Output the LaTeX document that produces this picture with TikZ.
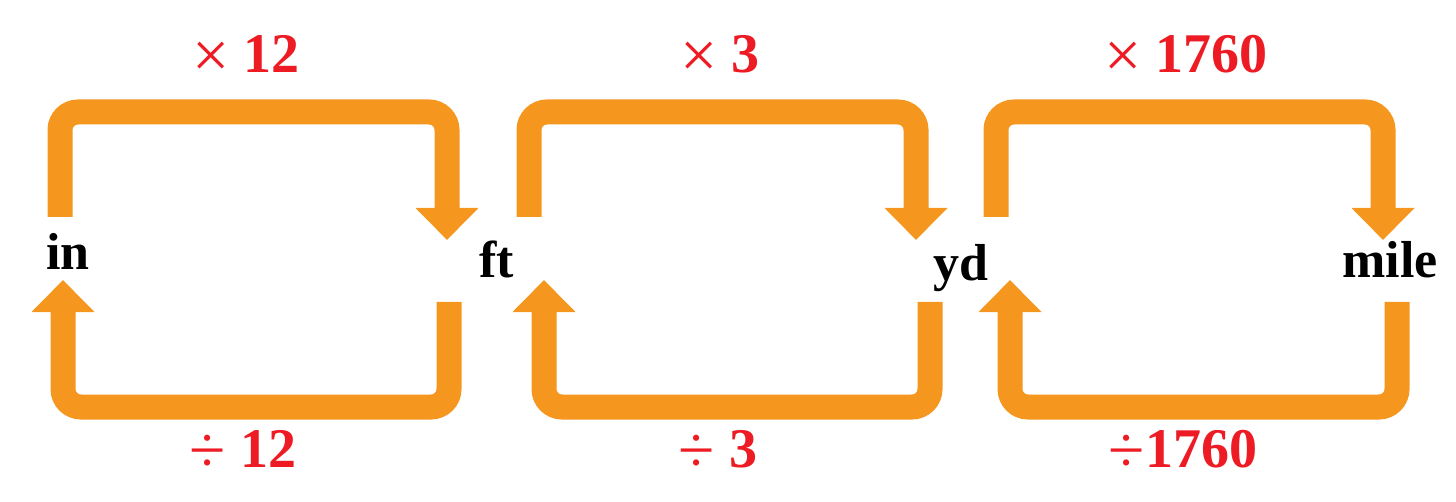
\documentclass[tikz,border=0pt]{standalone}
\usepackage{fontspec}
\setmainfont{Liberation Serif}
\usetikzlibrary{arrows.meta}
\definecolor{arrorange}{HTML}{F5961F}
\definecolor{oprred}{HTML}{ED1C24}
\newcommand{\opsym}[1]{\raisebox{-2.5pt}{\fontsize{33}{36}\selectfont\mdseries #1}}
\begin{document}
\begin{tikzpicture}[x=0.5pt,y=-0.5pt,
  loop/.style={draw=arrorange,line width=12.5pt,rounded corners=9pt,
    -{Triangle[width=30.5pt,length=16pt]}},
  unit/.style={font=\fontsize{26}{30}\selectfont\bfseries,inner sep=0pt,anchor=base west},
  op/.style={font=\fontsize{28}{32}\selectfont\bfseries,text=oprred,inner sep=0pt,anchor=base}]
\useasboundingbox (0,0) rectangle (1456,502);
% unit nodes
\node[unit] (in)   at (46,270)   {in};
\node[unit] (ft)   at (479,278)  {ft};
\node[unit] (yd)   at (933,280)  {yd};
\node[unit] (mile) at (1342,278) {mile};
% operator labels
\node[op] (m12)   at (246,73)  {\opsym{×} 12};
\node[op] (m3)    at (720,73)  {\opsym{×} 3};
\node[op] (m1760) at (1186,73) {\opsym{×} 1760};
\node[op] (d12)   at (243,467) {\opsym{÷} 12};
\node[op] (d3)    at (718,467) {\opsym{÷} 3};
\node[op] (d1760) at (1183,467){\opsym{÷}1760};
% connector end points
\coordinate (s1) at (60,217);   \coordinate (e1) at (447,240);
\coordinate (s2) at (449,302);  \coordinate (e2) at (63,280);
\coordinate (s3) at (529,217);  \coordinate (e3) at (916,240);
\coordinate (s4) at (930,302);  \coordinate (e4) at (544,280);
\coordinate (s5) at (996,217);  \coordinate (e5) at (1383,240);
\coordinate (s6) at (1397,302); \coordinate (e6) at (1010,280);
% connectors
\draw[loop] (s1) |- (447,112) -- (e1);
\draw[loop] (s2) |- (63,407) -- (e2);
\draw[loop] (s3) |- (916,112) -- (e3);
\draw[loop] (s4) |- (544,407) -- (e4);
\draw[loop] (s5) |- (1383,112) -- (e5);
\draw[loop] (s6) |- (1010,407) -- (e6);
\end{tikzpicture}
\end{document}
